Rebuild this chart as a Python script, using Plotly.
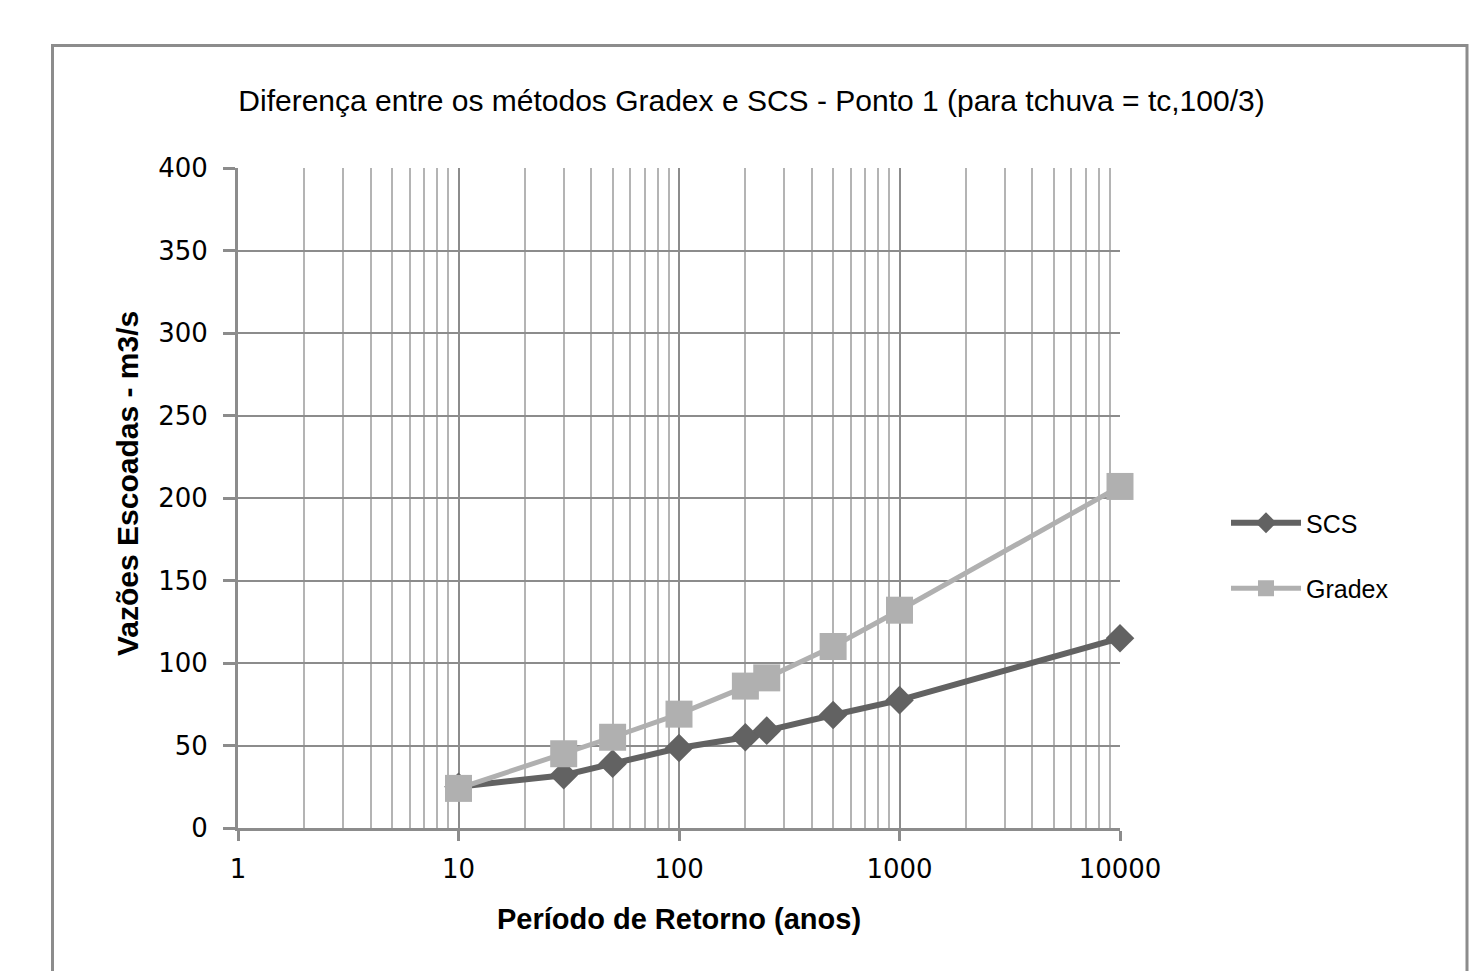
import plotly.graph_objects as go

periods = [10, 30, 50, 100, 200, 250, 500, 1000, 10000]
scs = [25, 32, 39, 48.5, 55, 59, 68.5, 77.5, 115]
gradex = [24, 45, 55, 69, 86, 91, 110, 132, 207]
y_ticks = [0, 50, 100, 150, 200, 250, 300, 350, 400]
x_ticks = [1, 10, 100, 1000, 10000]

W, H = 1469, 971
L, R, T, B = 238, 1120, 168, 828
FONT = "Liberation Sans"

fig = go.Figure()
fig.add_trace(go.Scatter(
    x=periods, y=scs, name="SCS", mode="lines+markers", legendgroup="s",
    line=dict(color="#626262", width=6), cliponaxis=False,
    marker=dict(symbol="diamond", size=22, color="#626262"),
))
fig.add_trace(go.Scatter(
    x=periods, y=gradex, name="Gradex", mode="lines+markers", legendgroup="g",
    line=dict(color="#b0b0b0", width=5), cliponaxis=False,
    marker=dict(symbol="square", size=27, color="#b0b0b0"),
))

fig.update_layout(
    width=W, height=H,
    margin=dict(l=L, r=W - R, t=T, b=H - B),
    paper_bgcolor="white", plot_bgcolor="white",
    title=dict(text="Diferença entre os métodos Gradex e SCS - Ponto 1 (para tchuva = tc,100/3)",
               x=(230 + 1273) / 2 / W, xanchor="center", y=1 - 100 / H, yanchor="middle",
               font=dict(family=FONT, size=30, color="#000000")),
    legend=dict(x=(1226 - L) / (R - L), y=1 - (500 - T) / (B - T), xanchor="left", yanchor="top",
                traceorder="grouped", font=dict(family=FONT, size=25, color="#000"),
                bgcolor="rgba(0,0,0,0)", itemwidth=70, tracegroupgap=30),
    showlegend=True,
    shapes=[dict(type="rect", xref="paper", yref="paper",
                 x0=(52.5 - L) / (R - L), x1=(1467 - L) / (R - L),
                 y0=1 - (980 - T) / (B - T), y1=1 - (45.5 - T) / (B - T),
                 line=dict(color="#8c8c8c", width=3), layer="below")],
    annotations=[dict(text="<b>Vazões Escoadas - m3/s</b>", textangle=-90,
                      xref="paper", yref="paper",
                      x=(127 - L) / (R - L), y=1 - (484 - T) / (B - T),
                      xanchor="center", yanchor="middle", showarrow=False,
                      font=dict(family=FONT, size=30, color="#000"))],
)

fig.update_xaxes(
    type="log", range=[0, 4], tickvals=x_ticks, ticktext=[str(v) for v in x_ticks],
    showgrid=True, gridcolor="#8c8c8c", gridwidth=2,
    minor=dict(dtick="D1", showgrid=True, gridcolor="#b4b4b4", gridwidth=2, ticks=""),
    showline=True, linecolor="#8c8c8c", linewidth=3,
    ticks="outside", ticklen=10, tickwidth=3, tickcolor="#8c8c8c",
    ticklabelstandoff=6,
    tickfont=dict(family="DejaVu Sans", size=26, color="#000"),
    title=dict(text="<b>Período de Retorno (anos)</b>", standoff=26,
               font=dict(family=FONT, size=29, color="#000")),
    zeroline=False,
)
fig.update_yaxes(
    range=[0, 400], tickvals=y_ticks,
    showgrid=True, gridcolor="#8c8c8c", gridwidth=2,
    showline=True, linecolor="#8c8c8c", linewidth=3,
    ticks="outside", ticklen=12, tickwidth=3, tickcolor="#8c8c8c",
    ticklabelstandoff=10,
    tickfont=dict(family="DejaVu Sans", size=26, color="#000"),
    zeroline=False,
)

fig.write_html("out.html")
